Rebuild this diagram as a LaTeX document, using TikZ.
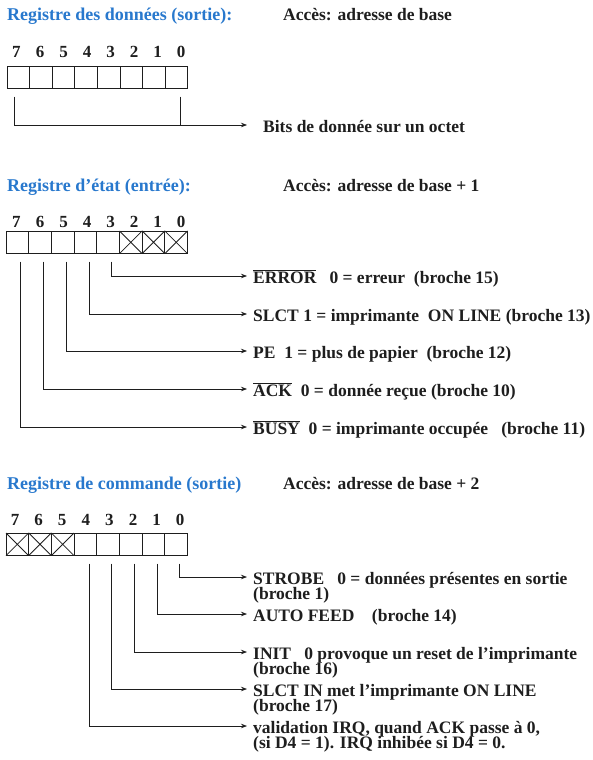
\documentclass[tikz,border=0pt]{standalone}
\usepackage{fontspec}
\setmainfont{Liberation Serif}
\usetikzlibrary{arrows.meta,calc}
\definecolor{titleblue}{RGB}{40,120,205}
\definecolor{ink}{RGB}{30,30,30}
\begin{document}
\begin{tikzpicture}[x=1pt,y=-1pt,
  txt/.style={anchor=base west,inner sep=0pt,font=\fontsize{17.5}{17.5}\selectfont\bfseries,text=ink},
  txttwo/.style={txt,align=left,font={\fontsize{17.5}{15}\selectfont\bfseries\lineskiplimit=-30pt\relax}},
  ttl/.style={txt,font=\fontsize{18}{18}\selectfont\bfseries,text=titleblue},
  digit/.style={anchor=base,inner sep=0pt,font=\fontsize{17}{17}\selectfont\bfseries,text=ink},
  cell/.style={draw=ink,line width=0.9pt,minimum width=22.6pt,minimum height=22.6pt,inner sep=0pt,outer sep=0pt,anchor=north west},
  link/.style={draw=ink,line width=0.7pt,-{Stealth[length=6pt,width=4.5pt]}},
  xcross/.style={draw=ink,line width=0.8pt}]
\useasboundingbox (0,0) rectangle (593,760);

% ---------- Register 1 ----------
\node[ttl] (t1) at (7,21) {Registre des données (sortie):};
\node[txt] (a1) at (283,21) {Accès: adresse de base};
\foreach \b [count=\i from 0] in {7,6,5,4,3,2,1,0}{
  \node[digit] (da\b) at (16.5+\i*23.5,57) {\b};
  \node[cell] (ca\b) at (7+\i*22.6,66) {};
}
\coordinate (ea) at (247,125);
\node[txt] (ta) at (263,132) {Bits de donnée sur un octet};
\draw[link] ($(ca7.south)+(-4,8)$) |- (ea);
\draw[draw=ink,line width=0.7pt] ($(ca0.south)+(3.5,8)$) -- ($(ca0.south)+(3.5,37)$);

% ---------- Register 2 ----------
\node[ttl] (t2) at (7,191) {Registre d'état (entrée):};
\node[txt] (a2) at (283,191) {Accès: adresse de base + 1};
\foreach \b [count=\i from 0] in {7,6,5,4,3,2,1,0}{
  \node[digit] (db\b) at (16.5+\i*23.5,227) {\b};
  \node[cell] (cb\b) at (6+\i*22.7,231) {};
}
\foreach \b in {2,1,0}{
  \draw[xcross] (cb\b.north west) -- (cb\b.south east) (cb\b.south west) -- (cb\b.north east);
}
\coordinate (eb3) at (247,276);
\coordinate (eb4) at (247,314);
\coordinate (eb5) at (247,351);
\coordinate (eb6) at (247,389);
\coordinate (eb7) at (247,427);
\node[txt] (tb3) at (253,283) {$\overline{\mbox{ERROR}}$\ \ \ 0 = erreur\ \ (broche 15)};
\node[txt] (tb4) at (253,321) {SLCT\ 1 = imprimante\ \ ON LINE (broche 13)};
\node[txt] (tb5) at (253,358) {PE\ \ 1 = plus de papier\ \ (broche 12)};
\node[txt] (tb6) at (253,396) {$\overline{\mbox{ACK}}$\ \ 0 = donnée reçue (broche 10)};
\node[txt] (tb7) at (253,434) {$\overline{\mbox{BUSY}}$\ \ 0 = imprimante occupée\ \ \ (broche 11)};
\foreach \b in {3,4,5,6,7}{
  \draw[link] ($(cb\b.south)+(3.5,8)$) |- (eb\b);
}

% ---------- Register 3 ----------
\node[ttl] (t3) at (7,489) {Registre de commande (sortie)};
\node[txt] (a3) at (283,489) {Accès: adresse de base + 2};
\foreach \b [count=\i from 0] in {7,6,5,4,3,2,1,0}{
  \node[digit] (dc\b) at (15+\i*23.6,525) {\b};
  \node[cell] (cc\b) at (6+\i*22.7,533) {};
}
\foreach \b in {7,6,5}{
  \draw[xcross] (cc\b.north west) -- (cc\b.south east) (cc\b.south west) -- (cc\b.north east);
}
\coordinate (ec0) at (247,577);
\coordinate (ec1) at (247,614);
\coordinate (ec2) at (247,652);
\coordinate (ec3) at (247,689);
\coordinate (ec4) at (247,726);
\node[txttwo] (tc0) at (253,599) {STROBE\ \ \ 0 = données présentes en sortie\\(broche 1)};
\node[txt] (tc1) at (253,621) {AUTO FEED\ \ \ \ (broche 14)};
\node[txttwo] (tc2) at (253,674) {INIT\ \ \ 0 provoque un reset de l'imprimante\\(broche 16)};
\node[txttwo] (tc3) at (253,711) {SLCT IN met l'imprimante ON LINE\\(broche 17)};
\node[txttwo] (tc4) at (253,748) {validation IRQ, quand ACK passe à 0,\\(si D4 = 1). IRQ inhibée si D4 = 0.};
\foreach \b in {0,1,2,3,4}{
  \draw[link] ($(cc\b.south)+(3.5,8)$) |- (ec\b);
}
\end{tikzpicture}
\end{document}
